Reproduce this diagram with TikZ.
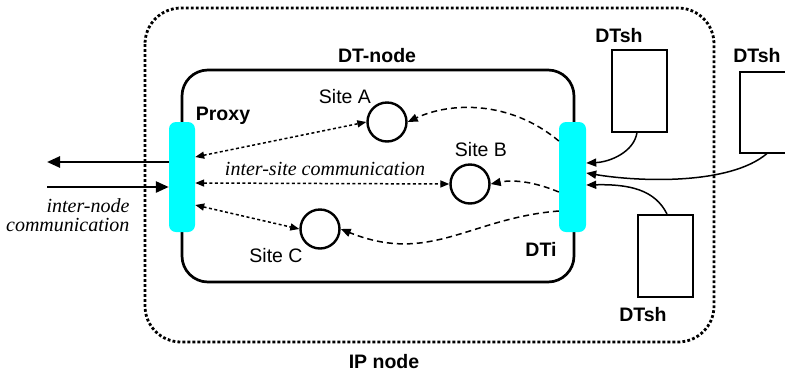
\documentclass[tikz,border=0pt]{standalone}
\usepackage{fontspec}
\setmainfont{Liberation Sans}
\newfontfamily\serifit{Liberation Serif}
\usetikzlibrary{arrows.meta}
\definecolor{barcyan}{RGB}{0,255,255}
\begin{document}
\begin{tikzpicture}[x=1pt,y=-1pt,
  lbl/.style={font=\fontsize{19.5}{21}\selectfont\bfseries,anchor=base},
  sitelbl/.style={font=\fontsize{19.5}{21}\selectfont,anchor=base},
  itl/.style={font=\serifit\itshape\fontsize{20}{18.5}\selectfont,anchor=base},
  bar/.style={fill=barcyan,draw=none,rounded corners=7pt},
  site/.style={circle,draw,line width=2.4pt,minimum size=39pt,inner sep=0pt},
  shbox/.style={draw,line width=1.5pt,inner sep=0pt,anchor=north west},
  tip/.style={-{Triangle[length=10pt,width=8pt]}},
  bigtip/.style={-{Triangle[length=13pt,width=11pt]}},
  both/.style={{Triangle[length=9pt,width=7pt]}-{Triangle[length=9pt,width=7pt]}},
  dots/.style={line width=1.5pt,dash pattern=on 3pt off 2.5pt},
  dashes/.style={line width=1.5pt,dash pattern=on 6pt off 4pt},
  wire/.style={line width=1.5pt},
]
\useasboundingbox (0,0) rectangle (785,373);
\clip (0,0) rectangle (785,373);

% outer IP node (dotted)
\draw[line width=2.8pt,dash pattern=on 2.8pt off 2.2pt,rounded corners=36pt] (145,8) rectangle (714,342);
\node[lbl] (ip) at (384,368) {IP node};

% DT-node
\draw[line width=2.7pt,rounded corners=26pt] (182,70) rectangle (574,282);
\node[lbl] (dtn) at (377,62) {DT-node};

% proxy and DTi bars
\node[bar,minimum width=26pt,minimum height=110pt] (proxy) at (182,177) {};
\node[bar,minimum width=27pt,minimum height=110pt] (dti) at (572.5,177) {};
\node[lbl] (proxylbl) at (223,120) {Proxy};
\node[lbl] (dtilbl) at (541,256) {DTi};

% sites
\node[site] (sa) at (387,122) {};
\node[site] (sb) at (470,184) {};
\node[site] (sc) at (320,229) {};
\node[sitelbl] (sal) at (345,103) {Site A};
\node[sitelbl] (sbl) at (481,156) {Site B};
\node[sitelbl] (scl) at (276,262) {Site C};

% shell boxes
\node[shbox,minimum width=55pt,minimum height=82pt] (sh1) at (611,49) {};
\node[shbox,minimum width=60pt,minimum height=81pt] (sh2) at (739,71) {};
\node[shbox,minimum width=55pt,minimum height=82pt] (sh3) at (637,214) {};
\node[lbl] (sh1l) at (619,42) {DTsh};
\node[lbl] (sh2l) at (757,62) {DTsh};
\node[lbl] (sh3l) at (643,321) {DTsh};

% inter-node communication
\coordinate (outL) at (47,162);
\coordinate (inL) at (47,187);
\draw[line width=2.6pt,bigtip] (proxy.west |- outL) -- (outL);
\draw[line width=2.6pt,bigtip] (inL) -- (proxy.west |- inL);
\node[itl,align=right,anchor=base east] (inode) at (133,231) {inter-node\\communication};

% inter-site communication (dotted, two-way)
\draw[dots,both] (proxy.east |- 0,157) -- (sa.west);
\draw[dots,both] (proxy.east |- 0,183) -- (sb.west);
\draw[dots,both] (proxy.east |- 0,205) -- (sc.west);
\node[itl] (isc) at (325,175) {inter-site communication};

% DTi to sites (dashed)
\draw[dashes,tip] (dti.west |- 0,141) .. controls (510,100) and (450,102) .. (sa.east);
\draw[dashes,tip] (dti.west |- 0,192) .. controls (530,180) and (510,180) .. (sb.east);
\draw[dashes,tip] (dti.west |- 0,211) .. controls (470,218) and (430,265) .. (sc.east);

% shells to DTi
\draw[wire,tip] (sh1.south -| 637,0) .. controls (634,152) and (610,162) .. (dti.east |- 0,163);
\draw[wire,tip] (sh2.south -| 767,0) .. controls (730,185) and (640,182) .. (dti.east |- 0,173);
\draw[wire,tip] (sh3.north -| 667,0) .. controls (655,190) and (630,184) .. (dti.east |- 0,185);
\end{tikzpicture}
\end{document}
